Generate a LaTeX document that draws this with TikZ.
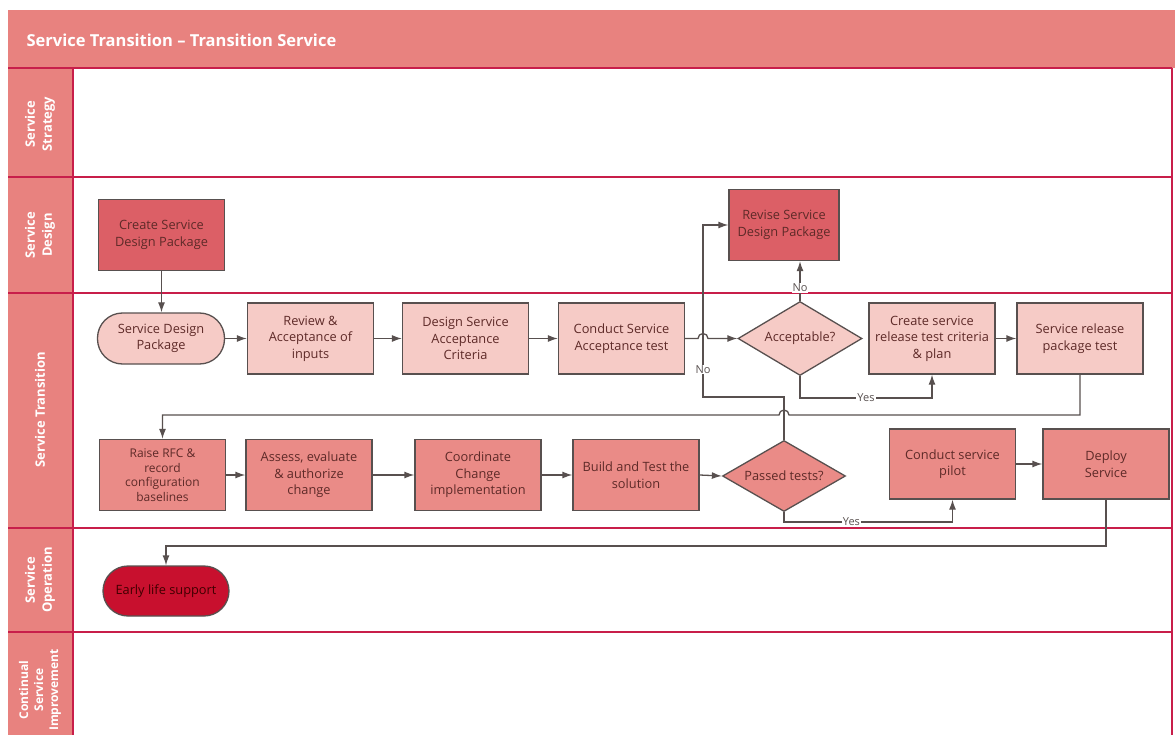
\documentclass[tikz,border=0pt]{standalone}
\usepackage{fontspec}
\setmainfont{Open Sans}
\usetikzlibrary{shapes.geometric,arrows.meta,calc}

\definecolor{band}{HTML}{E8827F}
\definecolor{laneline}{HTML}{C81E4A}
\definecolor{darkbox}{HTML}{DC5F66}
\definecolor{lightbox}{HTML}{F6CBC6}
\definecolor{midbox}{HTML}{EA8B87}
\definecolor{crimsonbox}{HTML}{C8102E}
\definecolor{edge}{HTML}{58504F}
\definecolor{boxtext}{HTML}{5E2A28}

\tikzset{
  boxbase/.style={draw=edge, line width=1.3pt, inner sep=2pt, align=center,
    text=boxtext, font=\fontsize{12.8}{16.5}\selectfont},
  stepbox/.style={boxbase, rectangle, minimum width=126pt, minimum height=71pt},
  lightstep/.style={stepbox, fill=lightbox},
  darkstep/.style={stepbox, fill=darkbox},
  midstep/.style={stepbox, fill=midbox},
  pill/.style={boxbase, rectangle, rounded corners=25pt, minimum width=127pt, minimum height=51pt},
  decision/.style={boxbase, diamond, aspect=1.7, inner sep=0pt},
  flow/.style={draw=edge, line width=1.3pt, -{Latex[length=10pt,width=7pt]}},
  lbl/.style={fill=white, inner sep=1pt, text=edge, font=\fontsize{11}{13}\selectfont},
  lanetext/.style={rotate=90, text=white, align=center, font=\bfseries\fontsize{13}{17}\selectfont},
  lane/.style={draw=laneline, line width=2.4pt}
}

\begin{document}
\begin{tikzpicture}[x=1pt, y=-1pt]
\useasboundingbox (0,0) rectangle (1175,735);
\fill[white] (0,0) rectangle (1175,735);

% title band and lane label column
\fill[band] (8,10) rectangle (1175,68);
\node[anchor=west, text=white, font=\bfseries\fontsize{16.5}{19}\selectfont] (title) at (23,40) {Service Transition -- Transition Service};
\fill[band] (8,68) rectangle (73,735);

% lane separators
\draw[lane] (8,68) -- (1172,68);
\draw[lane] (8,177) -- (1172,177);
\draw[lane] (8,293) -- (1172,293);
\draw[lane] (8,528) -- (1172,528);
\draw[lane] (8,632) -- (1172,632);
\draw[lane] (73,68) -- (73,735);
\draw[lane] (1172,68) -- (1172,735);

% lane names
\node[lanetext] (lstrat) at (40,124) {Service\\Strategy};
\node[lanetext] (ldes) at (40,235) {Service\\Design};
\node[lanetext] (ltrans) at (40,410) {Service Transition};
\node[lanetext] (lop) at (40,580) {Service\\Operation};
\node[lanetext, font=\bfseries\fontsize{12}{15}\selectfont] (lcsi) at (40,690) {Continual\\Service\\Improvement};

% routing coordinates
\coordinate (noX) at (703,0);
\coordinate (noY) at (0,397);
\coordinate (yesA) at (0,398);
\coordinate (backY) at (0,415);
\coordinate (yesB) at (0,522);
\coordinate (opsY) at (0,546);

% Service Design lane
\node[darkstep] (cSDP) at (161.5,235) {Create Service\\Design Package};
\node[darkstep, minimum width=110pt] (revise) at (784,225) {Revise Service\\Design Package};

% Service Transition lane, first row
\node[pill, fill=lightbox] (SDP) at (161,338.5) {Service Design\\Package};
\node[lightstep] (review) at (310.5,338.5) {Review \&\\Acceptance of\\inputs};
\node[lightstep] (dsac) at (465.5,338.5) {Design Service\\Acceptance\\Criteria};
\node[lightstep] (csat) at (621.5,338.5) {Conduct Service\\Acceptance test};
\node[decision, fill=lightbox, minimum width=124pt, minimum height=74pt] (accept) at (800,338.5) {Acceptable?};
\node[lightstep] (csrt) at (932,338.5) {Create service\\release test criteria\\\& plan};
\node[lightstep] (srpt) at (1080,338.5) {Service release\\package test};

% Service Transition lane, second row
\node[midstep, font=\fontsize{12}{14.5}\selectfont] (rfc) at (162.5,475) {Raise RFC \&\\record\\configuration\\baselines};
\node[midstep] (assess) at (309,475) {Assess, evaluate\\\& authorize\\change};
\node[midstep] (coord) at (478,475) {Coordinate\\Change\\implementation};
\node[midstep] (build) at (636,475) {Build and Test the\\solution};
\node[decision, fill=midbox, minimum width=123pt, minimum height=71pt] (passed) at (784,476) {Passed tests?};
\node[midstep, minimum height=70pt] (pilot) at (952.5,464) {Conduct service\\pilot};
\node[midstep, minimum height=70pt] (deploy) at (1106,464) {Deploy\\Service};

% Service Operation lane
\node[pill, fill=crimsonbox, text=black!75!red, minimum width=126pt, minimum height=50pt] (els) at (166,591) {Early life support};

% connectors
\draw[flow] (cSDP.south) -- (cSDP.south |- SDP.north);
\draw[flow] (SDP.east) -- (SDP.east -| review.west);
\draw[flow] (review.east) -- (review.east -| dsac.west);
\draw[flow] (dsac.east) -- (dsac.east -| csat.west);
\draw[flow] (csat.east) -- ($(csat.east -| noX)+(-5,0)$)
  arc[start angle=180, end angle=360, radius=5] -- (accept.west);
\draw[flow] (accept.north) -- node[lbl, pos=0.33] {No} (accept.north |- revise.south);
\draw[flow] (accept.south) -- (accept.south |- yesA) -- node[lbl] {Yes} (csrt.south |- yesA) -- (csrt.south);
\draw[flow] (csrt.east) -- (csrt.east -| srpt.west);
\draw[flow] (srpt.south) -- (srpt.south |- backY) -- ($(passed.north |- backY)+(5,0)$)
  arc[start angle=0, end angle=-180, radius=5] -- (rfc.north |- backY) -- (rfc.north);
\draw[flow] (passed.north) -- (passed.north |- noY) -- (noX |- noY)
  -- node[lbl, pos=0.16] {No} (noX |- revise.west) -- (revise.west);
\draw[flow] (rfc.east) -- (rfc.east -| assess.west);
\draw[flow] (assess.east) -- (assess.east -| coord.west);
\draw[flow] (coord.east) -- (coord.east -| build.west);
\draw[flow] (build.east) -- (passed.west);
\draw[flow] (passed.south) -- (passed.south |- yesB) -- node[lbl, pos=0.4] {Yes} (pilot.south |- yesB) -- (pilot.south);
\draw[flow] (pilot.east) -- (pilot.east -| deploy.west);
\draw[flow] (deploy.south) -- (deploy.south |- opsY) -- (els.north |- opsY) -- (els.north);
\end{tikzpicture}
\end{document}
